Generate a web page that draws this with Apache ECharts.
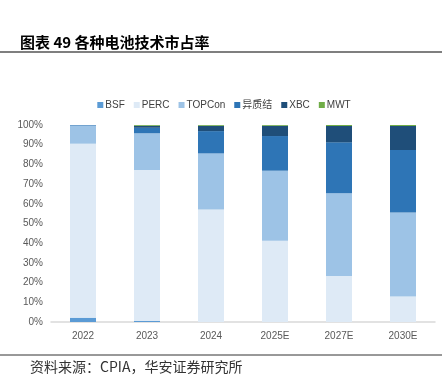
<!DOCTYPE html>
<html><head><meta charset="utf-8">
<script src="https://cdn.jsdelivr.net/npm/echarts@6/dist/echarts.min.js"></script>
<style>html,body{margin:0;padding:0;background:#fff}#c{width:448px;height:390px}</style>
</head><body><div id="c"></div>
<script>
const categories = ['2022','2023','2024','2025E','2027E','2030E'];
const bsf    = [2.2, 0.5, 0, 0, 0, 0];
const perc   = [88.3, 76.6, 57.1, 41.2, 23.4, 12.9];
const topcon = [9.2, 18.7, 28.5, 35.6, 41.9, 42.7];
const hjt    = [0.3, 2.8, 11.3, 17.6, 25.9, 31.7];
const xbc    = [0, 1.0, 2.7, 5.2, 8.3, 12.2];
const mwt    = [0, 0.4, 0.4, 0.4, 0.5, 0.5];
const seriesNames = ['BSF','PERC','TOPCon','异质结','XBC','MWT'];
const colors = ['#5B9BD5','#DEEAF6','#9DC3E6','#2E75B6','#1F4E79','#70AD47'];
const yTicks = ['0%','10%','20%','30%','40%','50%','60%','70%','80%','90%','100%'];
const dataSets = [bsf, perc, topcon, hjt, xbc, mwt];

const chart = echarts.init(document.getElementById('c'));
chart.setOption({
  animation: false,
  color: colors,
  title: {
    text: '图表 49 各种电池技术市占率', left: 15, top: 30,
    textStyle: {fontFamily: 'Noto Sans CJK SC', fontSize: 15, fontWeight: 'bold', color: '#000'}
  },
  graphic: [
    {type: 'line', shape: {x1: 0, y1: 52, x2: 442, y2: 52}, style: {stroke: '#555', lineWidth: 1.5}},
    {type: 'line', shape: {x1: 0, y1: 355, x2: 442, y2: 355}, style: {stroke: '#333', lineWidth: 1}},
    {type: 'text', left: 30, top: 360, style: {text: '资料来源：CPIA，华安证券研究所', fontFamily: 'Noto Sans CJK SC', fontSize: 14, fill: '#333'}}
  ],
  legend: {
    top: 95, left: 'center', itemWidth: 6, itemHeight: 6, itemGap: 9,
    icon: 'rect',
    textStyle: {fontSize: 10, color: '#404040', fontFamily: 'Liberation Sans, Noto Sans CJK SC', padding: [0,0,0,-3]},
    data: seriesNames
  },
  grid: {left: 51, right: 13, top: 125, bottom: 68},
  xAxis: {
    type: 'category', data: categories,
    axisLine: {lineStyle: {color: '#d9d9d9', width: 1.5}},
    axisTick: {show: false},
    axisLabel: {color: '#595959', fontSize: 10, margin: 9, fontFamily: 'Liberation Sans'}
  },
  yAxis: {
    type: 'value', min: 0, max: 100, interval: 10,
    splitLine: {show: false},
    axisLine: {show: false}, axisTick: {show: false},
    axisLabel: {color: '#595959', fontSize: 10, margin: 8, fontFamily: 'Liberation Sans',
      formatter: (v) => yTicks[Math.round(v / 10)]}
  },
  series: seriesNames.map((n, i) => ({
    name: n, type: 'bar', stack: 'all', data: dataSets[i], barWidth: 26
  }))
});
</script></body></html>
